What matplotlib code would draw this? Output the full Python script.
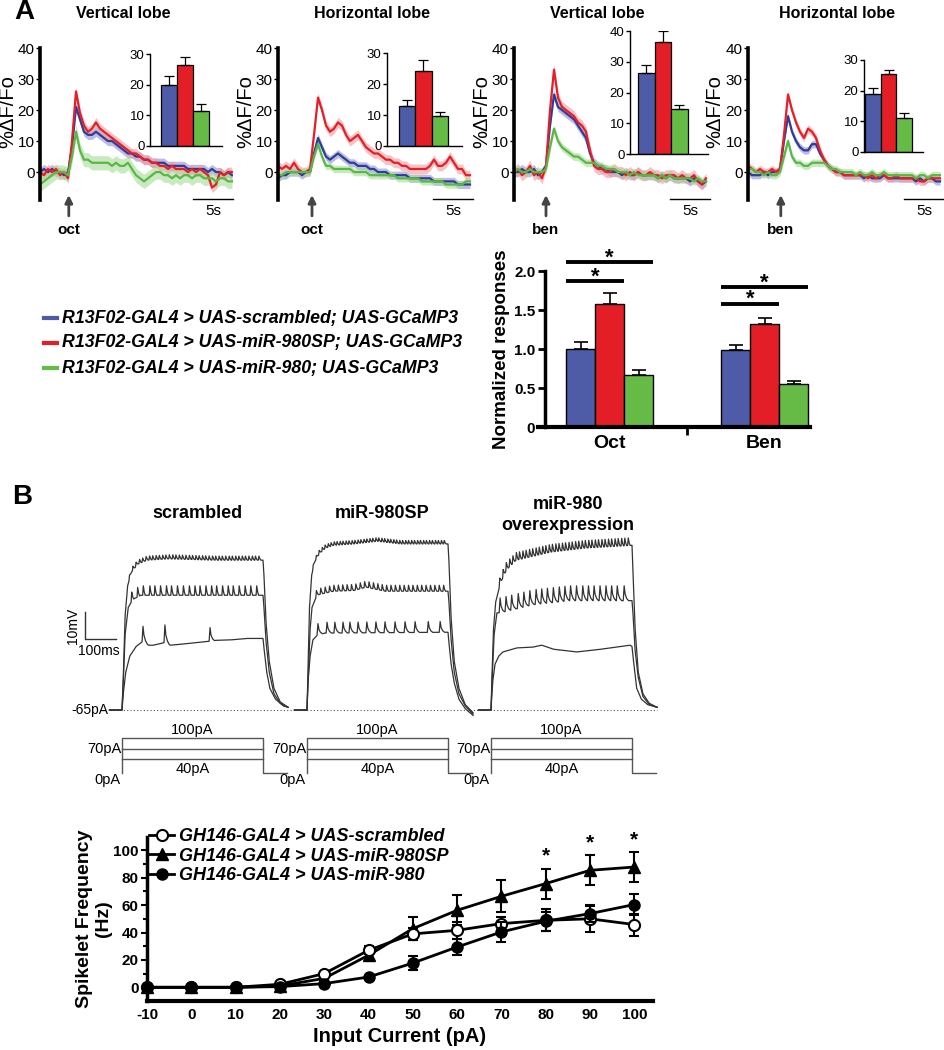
import numpy as np
import matplotlib
matplotlib.use('Agg')
import matplotlib.pyplot as plt
from matplotlib.lines import Line2D

plt.rcParams['font.family'] = ['Liberation Sans', 'DejaVu Sans']
plt.rcParams['axes.unicode_minus'] = False

# ---------------- DATA ----------------
# Panel A: calcium traces (%dF/F0), sampled every 0.5 s
trace_titles = ['Vertical lobe', 'Horizontal lobe', 'Vertical lobe', 'Horizontal lobe']
odor_labels = ['oct', 'oct', 'ben', 'ben']
stim_times = [3.6, 4.25, 4.0, 4.1]

blue_traces = [
    [0,1,0,1,0,0,-1, 0,8,21,17,13,12,12, 13,12,11,10,10,9,8, 7,6,6,5,5,4,4, 3,3,3,3,2,2,2, 2,2,1,1,1,1,1, 0,1,0,0,-1,0,-1],
    [-2,-1,-1,0,0,0,-1, 0,0,6,11,8,5,4, 5,6,5,4,3,3,2, 2,2,1,1,0,0,0, -1,-1,-1,-1,-1,-2,-2, -2,-2,-2,-2,-3,-3,-3, -3,-3,-3,-4,-4,-4,-4],
    [0,0,1,0,0,1,-1, 0,2,15,25,21,20,19, 18,17,15,13,11,6,3, 2,1,1,0,0,0,-1, 0,-1,-1,0,-1,-1,-1, -1,-2,-1,-2,-1,-2,-2, -2,-2,-3,-2,-3,-4,-3],
    [0,-1,-1,-1,0,-1,0, 0,1,10,18,13,10,8, 7,7,9,9,6,4,2, 1,0,0,-1,-1,-1,-1, -1,-2,-1,-2,-2,-2,-1, -2,-2,-2,-2,-2,-2,-2, -3,-2,-3,-2,-2,-3,-3],
]
red_traces = [
    [0,-1,1,0,1,-1,0, -2,10,26,19,15,13,14, 16,14,13,12,11,10,9, 8,7,6,6,5,4,4, 3,3,2,2,1,2,1, 1,1,0,1,0,1,0, -1,-5,-4,0,-1,0,0],
    [2,1,2,1,3,1,0, 0,1,12,24,20,15,13, 14,16,15,12,10,11,12, 10,8,7,6,6,5,4, 4,3,3,2,2,1,1, 1,1,1,2,4,2,2, 3,5,3,1,1,-1,-1],
    [0,1,-1,0,2,-1,0, -2,2,20,33,24,21,20, 19,18,16,15,13,7,2, 1,1,0,0,1,0,0, -1,0,-1,0,-1,-1,0, -1,-1,-2,-1,-1,-1,-2, -1,-2,-2,-1,-3,-4,-2],
    [2,1,0,1,0,0,1, 0,1,12,25,20,16,13, 11,14,13,11,7,4,2, 1,0,0,-1,-1,-1,-1, -1,-1,-2,-1,-2,-1,-1, -2,-2,-1,-2,-2,-2,-2, -2,-3,-3,-2,-2,-2,-2],
]
green_traces = [
    [-4,-3,-2,-1,0,0,0, -1,5,13,7,4,4,3, 3,3,3,3,2,3,2, 2,3,1,-1,-2,-3,-2, -1,0,0,-1,-1,-2,-1, -2,-1,-1,-2,-1,-1,-2, -2,-2,-3,-2,-2,-3,-3],
    [-1,-1,0,0,0,0,0, 0,0,5,9,5,2,2, 1,1,1,1,1,0,0, 0,0,-1,-1,-1,-1,-1, -1,-1,-2,-2,-2,-2,-2, -2,-3,-3,-3,-3,-3,-3, -4,-4,-4,-4,-4,-3,-3],
    [0,1,0,0,1,0,0, 0,1,8,14,10,8,7, 6,5,5,4,3,3,3, 2,2,1,1,1,0,0, 0,-1,0,-1,-1,-1,-1, -1,-2,-1,-2,-1,-2,-2, -2,-2,-2,-3,-2,-3,-3],
    [1,1,0,0,-1,0,-1, -1,0,5,10,5,3,3, 2,2,3,3,3,3,2, 1,1,0,0,0,0,-1, 0,-1,-1,0,-1,-1,0, -1,-1,-1,-1,-1,-1,-1, -2,-1,-1,-2,-1,-1,-1],
]
sem_blue = [1.5, 1.3, 1.5, 1.2]
sem_red = [1.6, 1.6, 1.8, 1.3]
sem_green = [2.3, 1.2, 1.3, 1.2]

# inset bar values (peak %dF/F0)
inset_means = [[20, 26.5, 11.5], [13, 24.3, 9.8], [26.5, 36.5, 14.5], [19, 25.5, 11.2]]
inset_errs = [[2.7, 2.5, 2.3], [1.8, 3.5, 1.2], [2.5, 3.5, 1.3], [2.0, 1.3, 1.5]]
inset_ymax = [30, 30, 40, 30]

# normalized responses
norm_groups = ['Oct', 'Ben']
norm_means = [[1.0, 1.58, 0.67], [0.99, 1.32, 0.55]]
norm_errs = [[0.09, 0.14, 0.06], [0.06, 0.08, 0.04]]

legend_A = ['R13F02-GAL4 > UAS-scrambled; UAS-GCaMP3',
            'R13F02-GAL4 > UAS-miR-980SP; UAS-GCaMP3',
            'R13F02-GAL4 > UAS-miR-980; UAS-GCaMP3']

# Panel B: voltage traces (depolarization from -65 mV), vertices (ms, mV)
rest_mV = -65
B_titles = ['scrambled', 'miR-980SP', 'miR-980\noverexpression']
step_currents = [40, 70, 100]
step_dur = 450
# scrambled
sc_top_t = [-40, 0, 4, 10, 18, 30, 50, 80, 150, 300, 450, 453, 460, 470, 485, 505, 530]
sc_top_v = [0, 0, 12, 35, 46, 51, 54, 55.5, 56, 55.5, 55.5, 50, 32, 18, 8, 3, 1]
sc_top_sp = [24,35,45,56,66,77,88,98,109,119,130,140,151,162,172,183,193,204,215,225,236,246,
             257,267,278,289,299,310,320,331,342,352,363,373,384,394,405,416,426,437]
sc_mid_t = [-40, 0, 4, 10, 20, 35, 60, 450, 453, 460, 470, 485, 505, 530]
sc_mid_v = [0, 0, 10, 28, 38, 41, 42.5, 42.5, 38, 25, 14, 6, 2.5, 1]
sc_mid_sp = [31,50,68,89,105,123,142,158,177,196,215,233,249,268,286,302,321,339,355,374,393,411,430]
sc_bot_t = [-40, 0, 5, 12, 25, 45, 67, 85, 100, 137, 155, 200, 281, 300, 350, 400, 450, 454, 462, 472, 490, 515, 530]
sc_bot_v = [0, 0, 7, 14, 20, 23.5, 25.5, 24, 24, 25, 24, 24.5, 25.5, 25.8, 26, 26.5, 26.5, 22, 14, 8, 4, 1.5, 1]
sc_bot_sp = [67, 137, 281]
sc_bot_amp = [5.5, 6.5, 5.0]
# miR-980SP
sp_top_t = [-40, 0, 3, 8, 15, 25, 40, 60, 85, 150, 224, 300, 450, 453, 460, 470, 485, 505, 530]
sp_top_v = [0, 0, 14, 38, 50, 55, 58, 60, 61, 61.5, 62.5, 61.5, 61.5, 55, 34, 18, 8, 2, -1]
sp_top_sp = [20,30,39,49,58,68,77,87,96,106,115,125,134,144,153,163,172,182,191,201,210,220,229,
             239,248,258,267,277,286,296,305,315,324,334,343,353,362,372,381,391,400,410,419,429,438]
sp_mid_t = [-40, 0, 4, 10, 16, 32, 83, 150, 189, 250, 450, 453, 460, 470, 485, 505, 530]
sp_mid_v = [0, 0, 12, 30, 38, 42.6, 44, 44.3, 45.5, 44, 44, 40, 26, 14, 6, 1.5, -1.5]
sp_mid_sp = [30,44,58,72,86,100,114,128,142,156,170,184,198,212,226,240,254,268,282,296,310,324,
             338,352,366,380,394,408,422,436]
sp_bot_t = [-40, 0, 3, 10, 19, 35, 60, 450, 453, 460, 470, 485, 505, 530]
sp_bot_v = [0, 0, 10, 20, 26, 28, 28.5, 28.8, 25, 17, 10, 4, 0.5, -2]
sp_bot_sp = [35, 64, 89, 115, 137, 163, 191, 220, 249, 281, 313, 345, 387, 425]
# overexpression
ov_top_t = [-40, 0, 3, 8, 15, 30, 50, 80, 190, 300, 450, 453, 460, 470, 485, 505, 530]
ov_top_v = [0, 0, 12, 30, 40, 47, 52, 55.5, 58.5, 60, 61, 52, 30, 14, 6, 2.5, 1]
ov_top_sp = [28,39,49,60,70,81,91,102,112,123,133,144,154,165,175,186,196,207,217,228,238,249,259,
             270,280,291,301,312,322,333,343,354,364,375,385,396,406,417,427,438]
ov_mid_t = [-40, 0, 4, 10, 19, 29, 134, 250, 450, 453, 460, 470, 485, 505, 530]
ov_mid_v = [0, 0, 12, 28, 36, 36, 39, 40.5, 40.5, 36, 22, 12, 5, 2, 1]
ov_mid_sp = [29,48,66,87,105,124,144,162,180,199,218,236,254,273,293,311,329,348,367,385,403,425]
ov_bot_t = [-40, 0, 3, 6, 13, 25, 38, 83, 134, 162, 200, 274, 350, 444, 450, 455, 465, 480, 500, 530]
ov_bot_v = [0, 0, 6, 11, 17, 20, 21.5, 23, 23.3, 24, 22.5, 21.5, 22.5, 24, 23.5, 18, 8, 4, 2, 1]

# Panel B: frequency-current curve
input_current = [-10, 0, 10, 20, 30, 40, 50, 60, 70, 80, 90, 100]
freq_scr = [0, 0, 0, 2.2, 10, 27, 39, 41.6, 46.5, 48.9, 50, 45.8]
err_scr = [0, 0, 0, 1, 1.5, 3, 4.5, 6, 5, 8, 9.7, 8]
freq_sp = [0, 0, 0, 1, 6.5, 23.4, 42.8, 56.2, 66.4, 75.7, 85.4, 87.8]
err_sp = [0, 0, 0, 0.5, 1, 2, 8.5, 11, 11.6, 11, 11, 11]
freq_mir = [0, 0, 0, 0.5, 2.7, 7.5, 17.7, 29.4, 40.4, 48.2, 53.8, 60.4]
err_mir = [0, 0, 0, 0.3, 0.5, 1, 5, 6, 7, 7, 6, 7.7]
sig_currents = [80, 90, 100]
legend_B = ['GH146-GAL4 > UAS-scrambled', 'GH146-GAL4 > UAS-miR-980SP', 'GH146-GAL4 > UAS-miR-980']

# ---------------- STYLE ----------------
C_BLUE, C_RED, C_GREEN = '#2F3C98', '#E3202A', '#58B845'
B_BLUE, B_RED, B_GREEN = '#8E94CF', '#F39AA0', '#A9DB98'
BAR_BLUE, BAR_RED, BAR_GREEN = '#4E5BA6', '#E41E26', '#66BB46'

W, H = 944, 1050
fig = plt.figure(figsize=(W / 100, H / 100), dpi=100)


def add_ax(l, t, r, b):
    return fig.add_axes([l / W, 1 - b / H, (r - l) / W, (b - t) / H])


def ftext(x, y, s, **kw):
    return fig.text(x / W, 1 - y / H, s, **kw)


# ---------------- PANEL A traces ----------------
ftext(24, 12, 'A', fontsize=20, weight='bold', ha='center', va='center')
trace_px = [(40, 233), (278, 473), (514, 710), (748, 944)]
ylabel_px = [17, 255, 491, 724]   # right edge of the rotated label
title_x = [123, 372, 597, 837]
inset_px = [(150, 54, 222, 146), (387, 53, 462, 146), (630, 31, 708, 154), (864, 60, 923, 152)]
inset_first_bar = [161, 399, 638, 865]
inset_barw = [16, 16.3, 16.5, 15.7]

for i in range(4):
    l, r = trace_px[i]
    ax = add_ax(l, 48, r, 200)
    xmax = (r - l) / 8.0
    ax.set_xlim(0, xmax)
    ax.set_ylim(-9, 40)
    for vals, sem, c, bc in [(blue_traces[i], sem_blue[i], C_BLUE, B_BLUE),
                             (red_traces[i], sem_red[i], C_RED, B_RED),
                             (green_traces[i], sem_green[i], C_GREEN, B_GREEN)]:
        v = np.array(vals, dtype=float)
        t = np.arange(len(v)) * 0.5
        ax.fill_between(t, v - sem, v + sem, color=bc, alpha=0.6, lw=0)
        ax.plot(t, v, color=c, lw=1.6)
    for s in ['top', 'right', 'bottom']:
        ax.spines[s].set_visible(False)
    ax.spines['left'].set_linewidth(2.6)
    ax.set_xticks([])
    ax.set_yticks([0, 10, 20, 30, 40])
    ax.tick_params(axis='y', length=3, width=1, labelsize=11, pad=1)
    ax.set_ylabel('%ΔF/Fo', fontsize=14.5)
    ax.yaxis.set_label_coords((ylabel_px[i] - l) / (r - l), (200 - 112) / 152.0)
    ax.plot([xmax - 5, xmax], [-8.6, -8.6], color='k', lw=1, clip_on=False)
    ax.text(xmax - 2.5, -12.5, '5s', ha='center', va='center', fontsize=11)
    ax.annotate('', xy=(stim_times[i], -6.5), xytext=(stim_times[i], -15),
                arrowprops=dict(arrowstyle='-|>', color='#444444', lw=2, mutation_scale=11),
                annotation_clip=False)
    ax.text(stim_times[i], -18.6, odor_labels[i], ha='center', va='center', fontsize=11, weight='bold')
    ftext(title_x[i], 14, trace_titles[i], ha='center', va='center', fontsize=11.5, weight='bold')

    # inset
    il, it, ir, ib = inset_px[i]
    iax = add_ax(il, it, ir, ib)
    bw = inset_barw[i]
    c0 = inset_first_bar[i] + bw / 2
    iax.set_xlim((il - c0) / bw, (ir - c0) / bw)
    iax.set_ylim(0, inset_ymax[i])
    iax.bar([0, 1, 2], inset_means[i], width=1.0, color=[BAR_BLUE, BAR_RED, BAR_GREEN],
            edgecolor='k', lw=0.9, yerr=[[0, 0, 0], inset_errs[i]],
            error_kw=dict(ecolor='k', elinewidth=0.9, capsize=3.5, capthick=0.9))
    for s in ['top', 'right']:
        iax.spines[s].set_visible(False)
    iax.spines['left'].set_linewidth(1)
    iax.spines['bottom'].set_linewidth(1)
    iax.set_xticks([])
    iax.set_yticks(np.arange(0, inset_ymax[i] + 1, 10))
    iax.tick_params(axis='y', length=3, width=1, labelsize=9.5, pad=1)
    iax.patch.set_alpha(0)

# ---------------- PANEL A legend ----------------
for k, (lab, c) in enumerate(zip(legend_A, [BAR_BLUE, BAR_RED, BAR_GREEN])):
    y = 318 + 25 * k
    fig.add_artist(Line2D([44 / W, 57 / W], [1 - y / H, 1 - y / H], color=c, lw=3))
    ftext(62, y, lab, ha='left', va='center', fontsize=12.8, weight='bold', style='italic')

# ---------------- PANEL A normalized bars ----------------
gc = 609.5
gsp = 155.0
nax = add_ax(538, 271, 810, 427)
nax.set_xlim((538 - gc) / gsp, (810 - gc) / gsp)
nax.set_ylim(0, 2.0)
bw = 29 / gsp
cols = [BAR_BLUE, BAR_RED, BAR_GREEN]
for g in range(2):
    xs = [g - bw, g, g + bw]
    nax.bar(xs, norm_means[g], width=bw, color=cols, edgecolor='k', lw=1,
            yerr=[[0, 0, 0], norm_errs[g]],
            error_kw=dict(ecolor='k', elinewidth=1.2, capsize=5, capthick=1.2))
for s in ['top', 'right']:
    nax.spines[s].set_visible(False)
nax.spines['left'].set_position(('data', (545 - gc) / gsp))
nax.spines['left'].set_linewidth(2.5)
nax.spines['bottom'].set_linewidth(3)
nax.set_yticks([0, 0.5, 1.0, 1.5, 2.0])
nax.set_yticklabels(['0', '0.5', '1.0', '1.5', '2.0'])
nax.tick_params(axis='y', length=5, width=2, labelsize=11, pad=2)
for lab in nax.get_yticklabels():
    lab.set_fontweight('bold')
nax.set_xticks([0, 1])
nax.set_xticklabels(norm_groups, fontsize=14, fontweight='bold')
nax.tick_params(axis='x', which='major', length=0, pad=6)
nax.set_xticks([0.5], minor=True)
nax.tick_params(axis='x', which='minor', length=6, width=2)
nax.set_ylabel('Normalized responses', fontsize=13.5, weight='bold', labelpad=3)
# significance bars
sig = [(0 - bw * 1.5, 0 + bw * 1.5, 2.115), (0 - bw * 1.5, 0 + bw * 0.5, 1.87),
       (1 - bw * 1.5, 1 + bw * 1.5, 1.79), (1 - bw * 1.5, 1 + bw * 0.5, 1.58)]
for x0, x1, yy in sig:
    nax.plot([x0, x1], [yy, yy], color='k', lw=2.8, clip_on=False, solid_capstyle='butt')
    nax.annotate('*', xy=((x0 + x1) / 2, yy), xytext=(0, -1), textcoords='offset points',
                 ha='center', va='baseline', fontsize=16, weight='bold', annotation_clip=False)

# ---------------- PANEL B traces ----------------
ftext(22, 497, 'B', fontsize=20, weight='bold', ha='center', va='center')
px_per_ms = 141 / 450.0
px_per_mV = 2.7
onset_px = [122, 307, 491]
onsets = [(p - 122) / px_per_ms for p in onset_px]
vax = add_ax(60, 520, 700, 720)
vax.set_xlim((60 - 122) / px_per_ms, (700 - 122) / px_per_ms)
vax.set_ylim(rest_mV - 10 / px_per_mV, rest_mV + 190 / px_per_mV)
vax.axis('off')

RIPPLE = [(-2, 0), (0, 1), (3, 0.35), (6, 0)]
SPIKE = [(-3, 0), (0, 1), (3, 0.45), (8, 0.15), (14, 0)]


def build(env_t, env_v, spikes=(), amps=None, shape=RIPPLE):
    env_t = np.asarray(env_t, float)
    env_v = np.asarray(env_v, float)
    if amps is None:
        amps = [0] * len(spikes)
    lo = shape[0][0]
    hi = shape[-1][0]
    pts = []
    for tt, vv in zip(env_t, env_v):
        if not any(s + lo < tt < s + hi for s in spikes):
            pts.append((tt, vv))
    for s, a in zip(spikes, amps):
        for dt, fr in shape:
            pts.append((s + dt, np.interp(s + dt, env_t, env_v) + a * fr))
    pts.sort()
    arr = np.array(pts)
    return arr[:, 0], arr[:, 1]


groups = [
    [(sc_top_t, sc_top_v, sc_top_sp, [1.5] * len(sc_top_sp), RIPPLE),
     (sc_mid_t, sc_mid_v, sc_mid_sp, [3.5] * len(sc_mid_sp), RIPPLE),
     (sc_bot_t, sc_bot_v, sc_bot_sp, sc_bot_amp, SPIKE)],
    [(sp_top_t, sp_top_v, sp_top_sp, [1.3] * len(sp_top_sp), RIPPLE),
     (sp_mid_t, sp_mid_v, sp_mid_sp, [2.2] * len(sp_mid_sp), RIPPLE),
     (sp_bot_t, sp_bot_v, sp_bot_sp, [4.0] * len(sp_bot_sp), SPIKE)],
    [(ov_top_t, ov_top_v, ov_top_sp, [2.8] * len(ov_top_sp), RIPPLE),
     (ov_mid_t, ov_mid_v, ov_mid_sp, [5.5] * len(ov_mid_sp), SPIKE),
     (ov_bot_t, ov_bot_v, [], [], RIPPLE)],
]
vax.plot([(110 - 122) / px_per_ms, (657 - 122) / px_per_ms], [rest_mV, rest_mV],
         ls=(0, (1, 2)), color='#555555', lw=0.8)
for g, on in enumerate(onsets):
    for et, ev, sps, amps, shp in groups[g]:
        tt, vv = build(et, ev, sps, amps, shp)
        vax.plot(on + tt, rest_mV + vv, color='#333333', lw=0.9)
# scale bar
sb_x = (85 - 122) / px_per_ms
sb_y = rest_mV + (710 - 639) / px_per_mV
vax.plot([sb_x, sb_x, sb_x + 100], [sb_y + 10, sb_y, sb_y], color='#333333', lw=1)
vax.text((73 - 122) / px_per_ms, sb_y + 5, '10mV', rotation=90, ha='center', va='center', fontsize=10)
vax.text((78 - 122) / px_per_ms, rest_mV + (710 - 651) / px_per_mV, '100ms', ha='left', va='center', fontsize=10)
vax.text((108 - 122) / px_per_ms, rest_mV, '-65pA', ha='right', va='center', fontsize=10)

ftext(197, 514, B_titles[0], ha='center', va='center', fontsize=13, weight='bold')
ftext(382, 514, B_titles[1], ha='center', va='center', fontsize=13, weight='bold')
ftext(568, 515, B_titles[2], ha='center', va='center', fontsize=13, weight='bold', linespacing=1.3)

# current protocol
px_per_pA = 0.35
iax = add_ax(60, 722, 700, 792)
iax.set_xlim(vax.get_xlim())
iax.set_ylim(-(792 - 773) / px_per_pA, (773 - 722) / px_per_pA)
iax.axis('off')
gray = '#555555'
for g, on in enumerate(onsets):
    off = on + step_dur
    top = max(step_currents)
    iax.plot([on, on, off, off, off + 77], [0, top, top, 0, 0], color=gray, lw=1)
    for cur in step_currents[:-1]:
        iax.plot([on, off], [cur, cur], color=gray, lw=1)
    mid = on + step_dur / 2
    iax.text(mid, (773 - 730) / px_per_pA, '%dpA' % step_currents[2], ha='center', va='center', fontsize=10.5)
    iax.text(mid, (773 - 769) / px_per_pA, '%dpA' % step_currents[0], ha='center', va='center', fontsize=10.5)
    iax.text(on - 3, step_currents[1], '%dpA' % step_currents[1], ha='right', va='center', fontsize=10.5)
    iax.text(on - 5, -(780 - 773) / px_per_pA, '0pA', ha='right', va='center', fontsize=10.5)

# ---------------- PANEL B f-I curve ----------------
lax = add_ax(147, 837, 653, 1001)
lax.set_xlim(-10, -10 + (653 - 147) / 4.43)
lax.set_ylim(-10, -10 + (1001 - 837) / 1.37)
ekw = dict(capsize=3.5, elinewidth=1.5, capthick=1.5, lw=2, color='k', clip_on=False)
lax.errorbar(input_current, freq_sp, yerr=err_sp, fmt='-^', ms=9, mfc='k', mec='k', zorder=3, **ekw)
lax.errorbar(input_current, freq_scr, yerr=err_scr, fmt='-o', ms=8, mfc='white', mec='k', mew=1.5, zorder=4, **ekw)
lax.errorbar(input_current, freq_mir, yerr=err_mir, fmt='-o', ms=8, mfc='k', mec='k', zorder=5, **ekw)
for xc in sig_currents:
    j = input_current.index(xc)
    lax.annotate('*', xy=(xc, freq_sp[j] + err_sp[j]), xytext=(0, 2), textcoords='offset points',
                 ha='center', va='bottom', fontsize=15, weight='bold', annotation_clip=False)
for s in ['top', 'right']:
    lax.spines[s].set_visible(False)
lax.spines['left'].set_linewidth(2.5)
lax.spines['bottom'].set_linewidth(3)
lax.set_yticks([0, 20, 40, 60, 80, 100])
lax.set_yticks([10, 30, 50, 70, 90], minor=True)
lax.set_xticks(input_current)
lax.tick_params(axis='both', which='major', length=4, width=1.5, labelsize=11, pad=2)
lax.tick_params(axis='y', which='minor', length=3, width=1.5)
lax.tick_params(axis='x', which='major', length=0, pad=5)
for lab in lax.get_xticklabels() + lax.get_yticklabels():
    lab.set_fontweight('bold')
lax.set_ylabel('Spikelet Frequency\n(Hz)', fontsize=14, weight='bold', labelpad=1, linespacing=1.1)
lax.set_xlabel('Input Current (pA)', fontsize=14.5, weight='bold', labelpad=4)
handles = [Line2D([], [], color='k', lw=2, marker='o', ms=8, mfc='white', mec='k', mew=1.5),
           Line2D([], [], color='k', lw=2, marker='^', ms=9, mfc='k', mec='k'),
           Line2D([], [], color='k', lw=2, marker='o', ms=8, mfc='k', mec='k')]
lax.legend(handles, legend_B, loc='upper left', bbox_to_anchor=(149 / W, 1 - 828 / H),
           bbox_transform=fig.transFigure, frameon=False, handlelength=1.4, handletextpad=0.25,
           labelspacing=0.15, borderpad=0, borderaxespad=0,
           prop=dict(weight='bold', style='italic', size=13))

fig.savefig('out.png', dpi=100)
